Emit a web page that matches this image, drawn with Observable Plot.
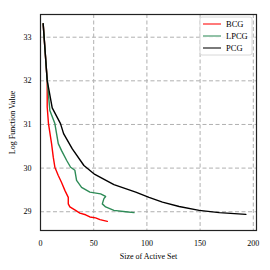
<!DOCTYPE html>
<html><head><meta charset="utf-8">
<script src="https://cdn.jsdelivr.net/npm/d3@7"></script>
<script src="https://cdn.jsdelivr.net/npm/@observablehq/plot@0.6"></script>
<style>body{margin:0;background:#fff;} #chart svg{display:block;}</style>
</head><body><div id="chart"></div>
<script>
const xTicks = [0, 50, 100, 150, 200];
const yTicks = [29, 30, 31, 32, 33];
const seriesNames = ["BCG", "LPCG", "PCG"];
const seriesColors = ["#ff0000", "#2e8b57", "#000000"];

const bcgX = [2.5, 6.3, 6.3, 7.5, 10.4, 12, 13.5, 16.7, 19.8, 22.9, 26.1, 26.1, 27.6, 33, 37, 42.4, 46.4, 51.8, 55.9, 62.8];
const bcgY = [33.31, 32.01, 31.40, 31.02, 30.56, 30.25, 30.02, 29.83, 29.67, 29.49, 29.33, 29.18, 29.11, 29.03, 28.97, 28.93, 28.88, 28.86, 28.82, 28.78];

const lpcgX = [2.5, 6.3, 8.8, 13.5, 15.1, 16.7, 19.8, 24.5, 28.3, 32.3, 33.9, 38.6, 46.4, 56.5, 61.2, 59.6, 58.1, 61.2, 69, 80, 87.9];
const lpcgY = [33.31, 32.01, 31.32, 31.02, 30.79, 30.56, 30.40, 30.18, 30.02, 29.95, 29.72, 29.56, 29.45, 29.41, 29.35, 29.30, 29.18, 29.11, 29.03, 29.0, 28.98];

const pcgX = [2.5, 6.3, 11, 18.8, 21.7, 29.9, 40.8, 50.2, 69, 89.5, 102, 114.6, 130.3, 149.1, 168, 193];
const pcgY = [33.31, 32.01, 31.38, 31.02, 30.79, 30.44, 30.06, 29.87, 29.62, 29.45, 29.33, 29.22, 29.12, 29.03, 28.98, 28.94];

const rows = [];
[[bcgX, bcgY], [lpcgX, lpcgY], [pcgX, pcgY]].forEach(([xs, ys], i) => {
  xs.forEach((x, j) => rows.push({series: seriesNames[i], x, y: ys[j]}));
});

const font = "'Liberation Serif', 'DejaVu Serif', serif";
const plot = Plot.plot({
  width: 270, height: 270,
  marginLeft: 40, marginRight: 14, marginTop: 14, marginBottom: 40,
  style: {fontFamily: font, fontSize: "8px", background: "#fff", color: "#000"},
  x: {domain: [0, 203]},
  y: {domain: [28.57, 33.52]},
  color: {domain: seriesNames, range: seriesColors},
  marks: [
    Plot.gridX(xTicks, {stroke: "#b0b0b0", strokeOpacity: 1, strokeDasharray: "4,2.5", strokeWidth: 1}),
    Plot.gridY(yTicks, {stroke: "#b0b0b0", strokeOpacity: 1, strokeDasharray: "4,2.5", strokeWidth: 1}),
    Plot.axisX(xTicks, {tickSize: 0, tickPadding: 10, fontSize: 8, label: "Size of Active Set", labelAnchor: "center", labelArrow: "none", labelOffset: 28}),
    Plot.axisY(yTicks, {tickSize: 0, tickPadding: 9, fontSize: 8, label: "Log Function Value", labelAnchor: "center", labelArrow: "none", labelOffset: 31}),
    Plot.line(rows, {x: "x", y: "y", z: "series", stroke: "series", strokeWidth: 1.4}),
    Plot.frame({stroke: "#222", strokeWidth: 1.2})
  ]
});
document.getElementById("chart").appendChild(plot);

// legend (top-right inside frame)
const svg = d3.select(plot);
const lg = svg.append("g").attr("font-family", font).attr("font-size", 8.5).attr("text-anchor", "start");
lg.append("rect").attr("x", 200).attr("y", 17).attr("width", 52).attr("height", 38)
  .attr("rx", 2).attr("fill", "#fff").attr("fill-opacity", 0.85).attr("stroke", "#d8d8d8");
seriesNames.forEach((name, i) => {
  const yy = 24 + i * 12;
  lg.append("line").attr("x1", 203).attr("x2", 221).attr("y1", yy).attr("y2", yy)
    .attr("stroke", seriesColors[i]).attr("stroke-opacity", 0.75).attr("stroke-width", 1.4);
  lg.append("text").attr("x", 226).attr("y", yy).attr("dy", "0.32em")
    .style("text-anchor", "start").text(name);
});
</script></body></html>
